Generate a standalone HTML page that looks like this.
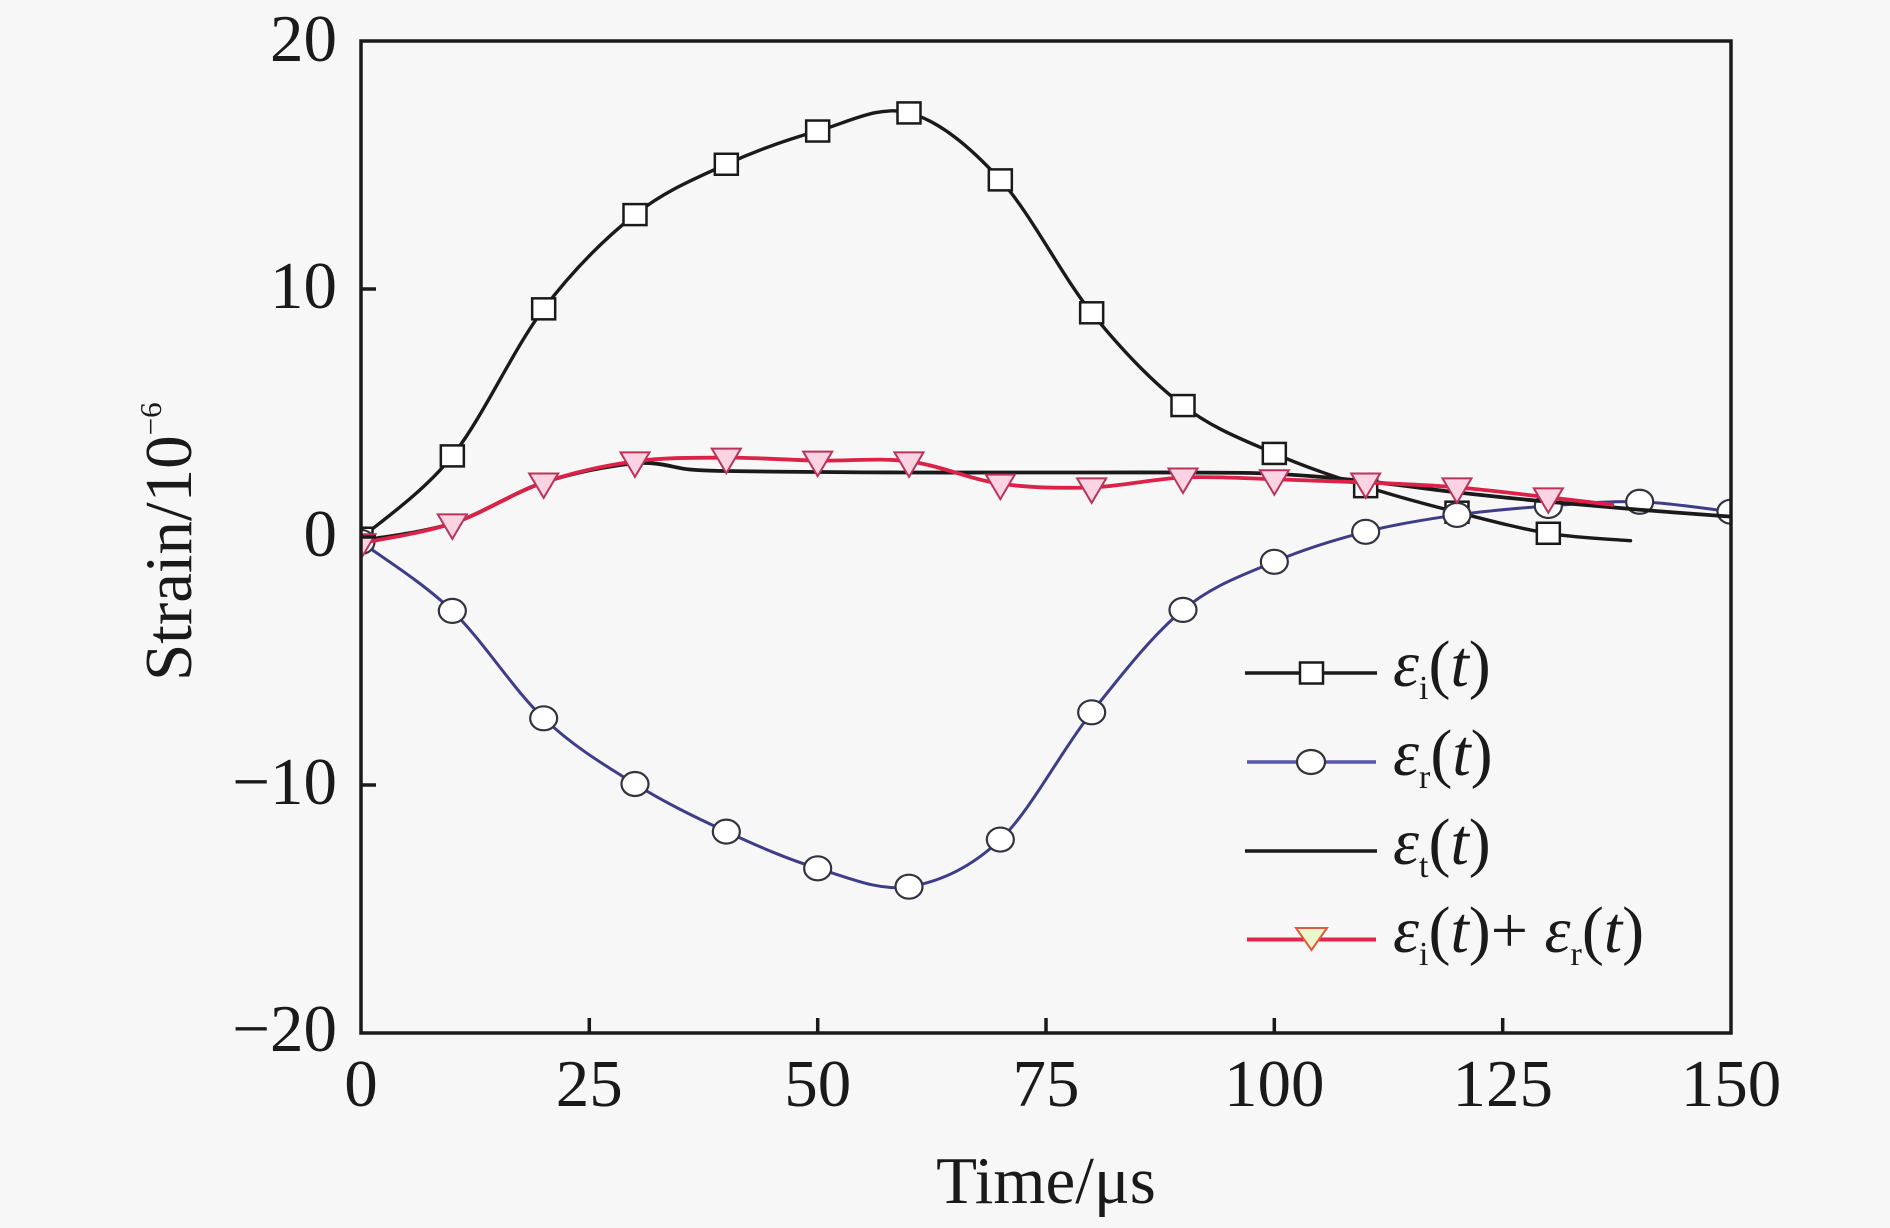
<!DOCTYPE html>
<html>
<head>
<meta charset="utf-8">
<style>
  html, body { margin:0; padding:0; background:#f7f7f7; }
  svg { display:block; }
  text { font-family: "Liberation Serif", "Times New Roman", Times, serif; fill:#1a1a1a; }
</style>
</head>
<body>
<svg id="chart" width="1890" height="1228" viewBox="0 0 1890 1228" xmlns="http://www.w3.org/2000/svg">
  <rect x="0" y="0" width="1890" height="1228" fill="#f7f7f7"/>
  <defs>
    <clipPath id="plotclip"><rect x="361" y="41" width="1370" height="992"/></clipPath>
  </defs>
  <g id="series" clip-path="url(#plotclip)"></g>

  <!-- axes box -->
  <rect x="361" y="41" width="1370" height="992" fill="none" stroke="#1a1a1a" stroke-width="3.5"/>
  <g stroke="#1a1a1a" stroke-width="3.5">
    <line x1="361" y1="289" x2="376" y2="289"/>
    <line x1="361" y1="537" x2="376" y2="537"/>
    <line x1="361" y1="785" x2="376" y2="785"/>
    <line x1="589.3" y1="1033" x2="589.3" y2="1018"/>
    <line x1="817.7" y1="1033" x2="817.7" y2="1018"/>
    <line x1="1046" y1="1033" x2="1046" y2="1018"/>
    <line x1="1274.3" y1="1033" x2="1274.3" y2="1018"/>
    <line x1="1502.7" y1="1033" x2="1502.7" y2="1018"/>
  </g>

  <g font-size="67" text-anchor="end">
    <text x="337" y="61">20</text>
    <text x="337" y="308">10</text>
    <text x="337" y="556">0</text>
    <text x="337" y="804">−10</text>
    <text x="337" y="1051">−20</text>
  </g>
  <g font-size="67" text-anchor="middle">
    <text x="361" y="1106">0</text>
    <text x="589.3" y="1106">25</text>
    <text x="817.7" y="1106">50</text>
    <text x="1046" y="1106">75</text>
    <text x="1274.3" y="1106">100</text>
    <text x="1502.7" y="1106">125</text>
    <text x="1731" y="1106">150</text>
  </g>

  <text x="1046" y="1203" font-size="67" text-anchor="middle">Time/μs</text>
  <text transform="translate(191,681) rotate(-90)" font-size="67">Strain/10<tspan font-size="31" dy="-30">−6</tspan></text>

  <g id="legend">
    <line x1="1245" y1="673" x2="1377" y2="673" stroke="#1a1a1a" stroke-width="3.5"/>
    <rect x="1300" y="662.5" width="23" height="21" fill="#ffffff" stroke="#1a1a1a" stroke-width="2.5"/>

    <line x1="1247" y1="762" x2="1376" y2="762" stroke="#5a55a8" stroke-width="3.5"/>
    <ellipse cx="1311" cy="762" rx="14" ry="12" fill="#ffffff" stroke="#333" stroke-width="2.2"/>

    <line x1="1245" y1="851" x2="1377" y2="851" stroke="#1a1a1a" stroke-width="3.5"/>

    <line x1="1247" y1="939.5" x2="1376" y2="939.5" stroke="#e8234f" stroke-width="4"/>
    <polygon points="1296,928 1327,928 1311.5,950" fill="#eef5cc" stroke="#e05a3a" stroke-width="2"/>

    <g font-size="66">
      <text x="1393" y="686"><tspan font-style="italic">ε</tspan><tspan font-size="34" dy="13">i</tspan><tspan dy="-13">(</tspan><tspan font-style="italic">t</tspan>)</text>
      <text x="1393" y="775"><tspan font-style="italic">ε</tspan><tspan font-size="34" dy="13">r</tspan><tspan dy="-13">(</tspan><tspan font-style="italic">t</tspan>)</text>
      <text x="1393" y="864"><tspan font-style="italic">ε</tspan><tspan font-size="34" dy="13">t</tspan><tspan dy="-13">(</tspan><tspan font-style="italic">t</tspan>)</text>
      <text x="1393" y="952"><tspan font-style="italic">ε</tspan><tspan font-size="34" dy="13">i</tspan><tspan dy="-13">(</tspan><tspan font-style="italic">t</tspan>)+ <tspan font-style="italic">ε</tspan><tspan font-size="34" dy="13">r</tspan><tspan dy="-13">(</tspan><tspan font-style="italic">t</tspan>)</text>
    </g>
  </g>
</svg>
<script>
(function(){
  var NS = "http://www.w3.org/2000/svg";
  var g = document.getElementById("series");
  function X(t){ return 361 + t*9.1333; }
  function Y(v){ return 537 - v*24.8; }
  function pathD(d){
    var p = d.map(function(a){ return [X(a[0]), Y(a[1])]; });
    var s = "M" + p[0][0].toFixed(2) + "," + p[0][1].toFixed(2);
    for (var i=0;i<p.length-1;i++){
      var p0 = p[i-1]||p[i], p1=p[i], p2=p[i+1], p3=p[i+2]||p2;
      var c1 = [p1[0]+(p2[0]-p0[0])/6, p1[1]+(p2[1]-p0[1])/6];
      var c2 = [p2[0]-(p3[0]-p1[0])/6, p2[1]-(p3[1]-p1[1])/6];
      s += " C" + c1[0].toFixed(2)+","+c1[1].toFixed(2)+" "+c2[0].toFixed(2)+","+c2[1].toFixed(2)+" "+p2[0].toFixed(2)+","+p2[1].toFixed(2);
    }
    return s;
  }
  function el(name, attrs){
    var e = document.createElementNS(NS, name);
    for (var k in attrs) e.setAttribute(k, attrs[k]);
    g.appendChild(e);
    return e;
  }
  function line(d, color, w){
    el("path", {d: pathD(d), fill:"none", stroke:color, "stroke-width":w, "stroke-linejoin":"round", "stroke-linecap":"round"});
  }

  var ei = [[0,-0.05],[10,3.27],[20,9.2],[30,13.0],[40,15.03],[50,16.37],[60,17.1],[70,14.4],[80,9.04],[90,5.3],[100,3.37],[110,2.03],[120,1.0],[130,0.15],[139,-0.15]];
  var er = [[0,-0.2],[10,-2.98],[20,-7.31],[30,-9.96],[40,-11.88],[50,-13.36],[60,-14.1],[70,-12.2],[80,-7.07],[90,-2.94],[100,-1.0],[110,0.21],[120,0.89],[130,1.25],[140,1.42],[150,1.02]];
  var et = [[0,-0.15],[10,0.55],[20,2.2],[30,2.97],[36,2.72],[40,2.66],[50,2.62],[60,2.6],[70,2.6],[80,2.6],[90,2.6],[100,2.55],[110,2.25],[120,1.8],[130,1.42],[140,1.1],[150,0.82]];
  var rd = [[0,-0.25],[10,0.55],[20,2.2],[30,3.05],[40,3.2],[50,3.08],[60,3.05],[70,2.15],[80,2.0],[90,2.4],[100,2.33],[110,2.2],[120,2.0],[130,1.6],[137,1.3]];

  line(ei, "#1a1a1a", 3.4);
  ei.forEach(function(a){
    if (a[0] > 130) return;
    el("rect", {x:X(a[0])-11.5, y:Y(a[1])-10.5, width:23, height:21, fill:"#ffffff", stroke:"#1a1a1a", "stroke-width":2.5});
  });
  line(er, "#3d3d88", 3);
  er.forEach(function(a){
    el("ellipse", {cx:X(a[0]), cy:Y(a[1]), rx:13.5, ry:12, fill:"#ffffff", stroke:"#333340", "stroke-width":2.2});
  });
  line(et, "#1a1a1a", 3.8);
  line(rd, "#dc2249", 3.8);
  rd.forEach(function(a){
    if (a[0] > 130) return;
    var x = X(a[0]), y = Y(a[1]);
    el("polygon", {points:(x-14.5)+","+(y-9)+" "+(x+14.5)+","+(y-9)+" "+x+","+(y+15.5), fill:"#fbd3e2", stroke:"#b8345a", "stroke-width":2});
  });
})();
</script>
</body>
</html>
